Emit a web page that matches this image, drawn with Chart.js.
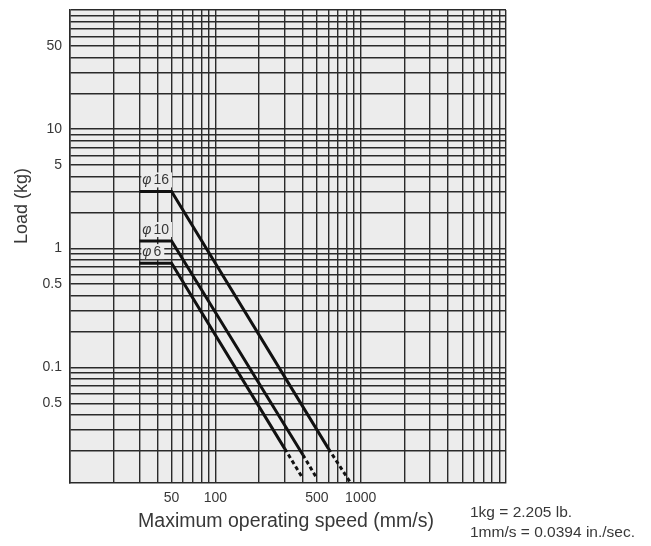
<!DOCTYPE html>
<html>
<head>
<meta charset="utf-8">
<script src="https://cdn.jsdelivr.net/npm/chart.js@4"></script>
<style>
  html, body { margin: 0; padding: 0; background: #ffffff; }
  #wrap { width: 651px; height: 546px; }
</style>
</head>
<body>
<div id="wrap"><canvas id="c" width="651" height="546"></canvas></div>
<script>
// ---- data ----
const xTickValues = [50, 100, 500, 1000];
const xTickLabels = ['50', '100', '500', '1000'];
const yTickValues = [50, 10, 5, 1, 0.5, 0.1, 0.05];
const yTickLabels = ['50', '10', '5', '1', '0.5', '0.1', '0.5'];

const seriesNames = ['16', '10', '6'];
const phi16Solid  = [{x: 30, y: 3},    {x: 50, y: 3},    {x: 600, y: 0.0208}];
const phi16Dashed = [{x: 600, y: 0.0208}, {x: 850, y: 0.0108}];
const phi10Solid  = [{x: 30, y: 1.15}, {x: 50, y: 1.15}, {x: 400, y: 0.0185}];
const phi10Dashed = [{x: 400, y: 0.0185}, {x: 500, y: 0.0117}];
const phi6Solid   = [{x: 30, y: 0.75}, {x: 50, y: 0.75}, {x: 300, y: 0.0208}];
const phi6Dashed  = [{x: 300, y: 0.0208}, {x: 400, y: 0.0117}];

const xMin = 10, xMax = 10000;
const yMin = 0.0107, yMax = 100;

// grid line positions (1..9 x each decade)
function logGrid(e0, e1) {
  const v = [];
  for (let e = e0; e < e1; e++) for (let m = 1; m < 10; m++) v.push(+(m * Math.pow(10, e)).toPrecision(3));
  v.push(Math.pow(10, e1));
  return v;
}
const xGrid = logGrid(1, 4).filter(v => v >= xMin && v <= xMax);
const yGrid = logGrid(-2, 2).filter(v => v >= yMin && v <= yMax);

function labelFor(vals, labels, v) {
  for (let i = 0; i < vals.length; i++) if (Math.abs(vals[i] - v) / vals[i] < 1e-6) return labels[i];
  return '';
}

const FONT = "'Liberation Sans', Arial, Helvetica, sans-serif";
const TXT = '#383838';
const GRID = '#2a2a2a';
const BG = '#ececec';

const lineDs = (data, dashed) => ({
  data, showLine: true, borderColor: '#111', borderWidth: 3,
  borderDash: dashed ? [4, 3] : [], pointRadius: 0, fill: false,
  borderCapStyle: 'butt', borderJoinStyle: 'miter', tension: 0
});

const bgPlugin = {
  id: 'bg',
  beforeDraw(chart) {
    const {ctx, chartArea: a} = chart;
    ctx.save();
    ctx.fillStyle = BG;
    ctx.fillRect(a.left, a.top, a.right - a.left, a.bottom - a.top);
    ctx.restore();
  }
};

const textPlugin = {
  id: 'texts',
  afterDatasetsDraw(chart) {
    const ctx = chart.ctx;
    const xs = chart.scales.x, ys = chart.scales.y;
    const labelY = [3, 1.15, 0.75];
    const offs = [-11, -11, -11];
    ctx.save();
    seriesNames.forEach((n, i) => {
      const px = xs.getPixelForValue(30) + 3;
      const py = ys.getPixelForValue(labelY[i]) + offs[i];
      ctx.font = 'italic 14px ' + FONT;
      const w1 = ctx.measureText('\u03C6').width;
      ctx.font = '14px ' + FONT;
      const w2 = ctx.measureText(n).width;
      ctx.fillStyle = BG;
      ctx.fillRect(px - 1, py - 8, w1 + w2 + 6, 15);
      ctx.fillStyle = TXT;
      ctx.textBaseline = 'middle';
      ctx.textAlign = 'left';
      ctx.font = 'italic 14px ' + FONT;
      ctx.fillText('\u03C6', px, py);
      ctx.font = '14px ' + FONT;
      ctx.fillText(n, px + w1 + 2, py);
    });
    ctx.restore();
  },
  afterDraw(chart) {
    const ctx = chart.ctx;
    ctx.save();
    ctx.fillStyle = TXT;
    ctx.textBaseline = 'middle';
    ctx.textAlign = 'center';
    ctx.font = '19.5px ' + FONT;
    ctx.fillText('Maximum operating speed (mm/s)', 286, 522);
    ctx.save();
    ctx.translate(22, 206);
    ctx.rotate(-Math.PI / 2);
    ctx.font = '18px ' + FONT;
    ctx.fillText('Load (kg)', 0, 0);
    ctx.restore();
    ctx.textAlign = 'left';
    ctx.font = '15.5px ' + FONT;
    ctx.fillText('1kg = 2.205 lb.', 470, 513);
    ctx.fillText('1mm/s = 0.0394 in./sec.', 470, 533);
    ctx.restore();
  }
};

new Chart(document.getElementById('c'), {
  type: 'scatter',
  data: {
    datasets: [
      lineDs(phi16Solid, false), lineDs(phi16Dashed, true),
      lineDs(phi10Solid, false), lineDs(phi10Dashed, true),
      lineDs(phi6Solid, false), lineDs(phi6Dashed, true)
    ]
  },
  options: {
    responsive: false,
    animation: false,
    events: [],
    layout: { padding: { top: 10, right: 145, left: 0, bottom: 0 } },
    plugins: { legend: { display: false }, tooltip: { enabled: false } },
    scales: {
      x: {
        type: 'logarithmic', min: xMin, max: xMax,
        afterBuildTicks(s) { s.ticks = xGrid.map(v => ({value: v})); },
        afterFit(s) { s.height = 63; s.paddingLeft = 0; s.paddingRight = 0; },
        grid: { color: GRID, lineWidth: 1.4, drawTicks: false },
        border: { display: true, color: GRID, width: 1.5 },
        ticks: {
          autoSkip: false, maxRotation: 0, padding: 7, color: TXT,
          font: { size: 14, family: FONT },
          callback: v => labelFor(xTickValues, xTickLabels, v)
        }
      },
      y: {
        type: 'logarithmic', min: yMin, max: yMax,
        afterBuildTicks(s) { s.ticks = yGrid.map(v => ({value: v})); },
        afterFit(s) { s.width = 70; s.paddingTop = 0; s.paddingBottom = 0; },
        grid: { color: GRID, lineWidth: 1.4, drawTicks: false },
        border: { display: true, color: GRID, width: 1.5 },
        ticks: {
          autoSkip: false, padding: 8, color: TXT,
          font: { size: 14, family: FONT },
          callback: v => labelFor(yTickValues, yTickLabels, v)
        }
      }
    }
  },
  plugins: [bgPlugin, textPlugin]
});
</script>
</body>
</html>
